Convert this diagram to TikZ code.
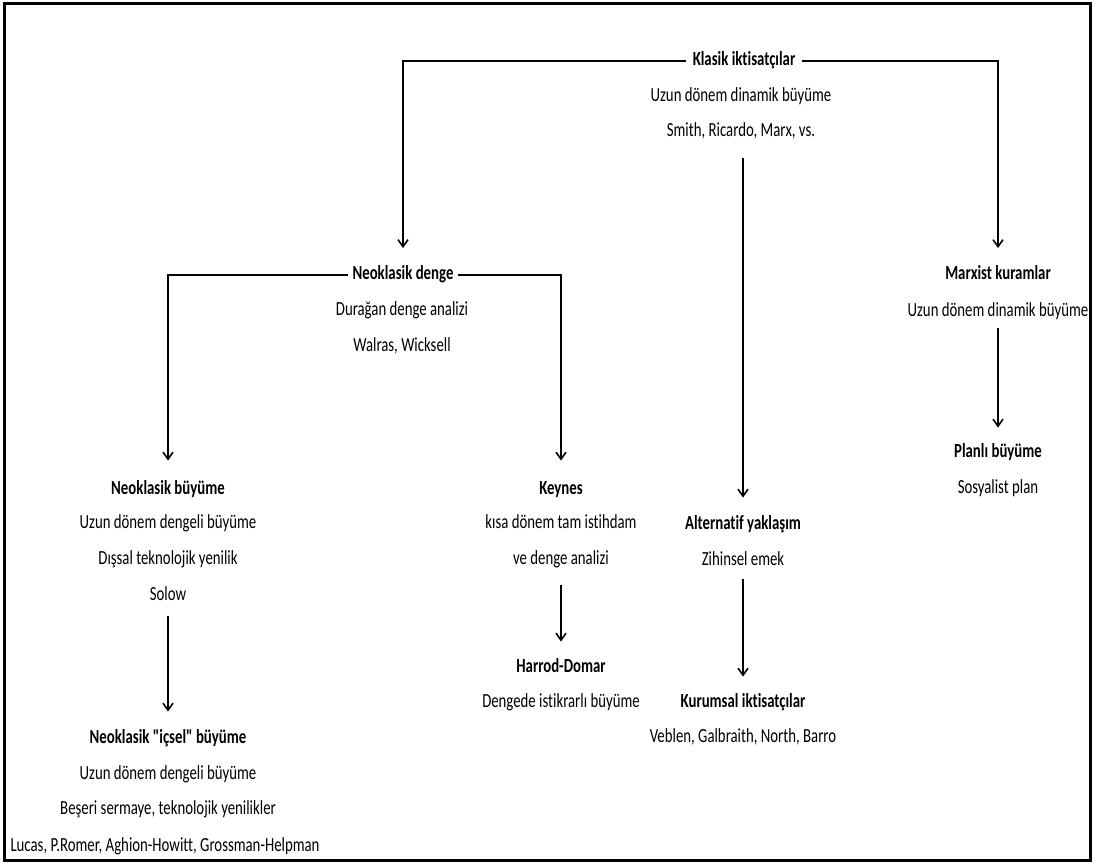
\documentclass[tikz,border=0pt]{standalone}
\usepackage{fontspec}
\setmainfont{Carlito}[FakeStretch=0.74, Ligatures={NoCommon,TeXOff}]
\usetikzlibrary{arrows.meta}
\begin{document}
\begin{tikzpicture}[x=1pt,y=-1pt,
  txt/.style={font=\fontsize{20pt}{21pt}\selectfont, text height=14pt, text depth=4.5pt, inner ysep=0pt, inner xsep=4pt},
  ttl/.style={txt, font=\fontsize{20pt}{21pt}\selectfont\bfseries},
  branch/.style={line width=2.6pt, -{Straight Barb[length=7pt,width=10pt,line width=1.6pt]}},
  conn/.style={line width=1.6pt, -{Straight Barb[length=7pt,width=10pt,line width=1.6pt]}}
]
\useasboundingbox (0,0) rectangle (1096,864);
\draw[line width=3pt] (4.5,3.5) rectangle (1090.5,860.5);

% Klasik
\node[ttl, inner xsep=7pt] (k1) at (744,61) {Klasik iktisatçılar};
\node[txt] (k2) at (741,97) {Uzun dönem dinamik büyüme};
\node[txt] (k3) at (741,132) {Smith, Ricardo, Marx, vs.};

% Neoklasik denge
\node[ttl] (nd1) at (403,275) {Neoklasik denge};
\node[txt] (nd2) at (402,311) {Durağan denge analizi};
\node[txt] (nd3) at (402,347) {Walras, Wicksell};

% Marxist
\node[ttl] (mk1) at (998,275) {Marxist kuramlar};
\node[txt] (mk2) at (998,312) {Uzun dönem dinamik büyüme};
\node[ttl] (pl1) at (998,453) {Planlı büyüme};
\node[txt] (pl2) at (998,489) {Sosyalist plan};

% Neoklasik buyume
\node[ttl] (nb1) at (168,490) {Neoklasik büyüme};
\node[txt] (nb2) at (168,524) {Uzun dönem dengeli büyüme};
\node[txt] (nb3) at (168,560) {Dışsal teknolojik yenilik};
\node[txt] (nb4) at (168,596) {Solow};

\node[ttl] (ni1) at (168,739) {Neoklasik "içsel" büyüme};
\node[txt] (ni2) at (168,775) {Uzun dönem dengeli büyüme};
\node[txt] (ni3) at (168,810) {Beşeri sermaye, teknolojik yenilikler};
\node[txt] (ni4) at (165,847) {Lucas, P.Romer, Aghion-Howitt, Grossman-Helpman};

% Keynes
\node[ttl] (ke1) at (561,490) {Keynes};
\node[txt] (ke2) at (561,524) {kısa dönem tam istihdam};
\node[txt] (ke3) at (561,560) {ve denge analizi};
\node[ttl] (hd1) at (561,668) {Harrod-Domar};
\node[txt] (hd2) at (561,703) {Dengede istikrarlı büyüme};

% Alternatif
\node[ttl] (al1) at (743,525) {Alternatif yaklaşım};
\node[txt] (al2) at (743,561) {Zihinsel emek};
\node[ttl] (ku1) at (743,703) {Kurumsal iktisatçılar};
\node[txt] (ku2) at (743,738) {Veblen, Galbraith, North, Barro};

% connectors
\draw[branch, shorten >=17.5pt] (k1.west) -| (nd1.north);
\draw[branch, shorten >=17.5pt] (k1.east) -| (mk1.north);
\draw[conn, shorten <=17pt, shorten >=18pt] (k3.south -| al1.north) -- (al1.north);
\draw[branch, shorten >=20pt] (nd1.west) -| (nb1.north);
\draw[branch, shorten >=20pt] (nd1.east) -| (ke1.north);
\draw[conn, shorten <=7pt, shorten >=16pt] (mk2.south) -- (pl1.north);
\draw[conn, shorten <=11pt, shorten >=18pt] (nb4.south) -- (ni1.north);
\draw[conn, shorten <=16pt, shorten >=17pt] (ke3.south) -- (hd1.north);
\draw[conn, shorten <=9pt, shorten >=17pt] (al2.south) -- (ku1.north);
\end{tikzpicture}
\end{document}
